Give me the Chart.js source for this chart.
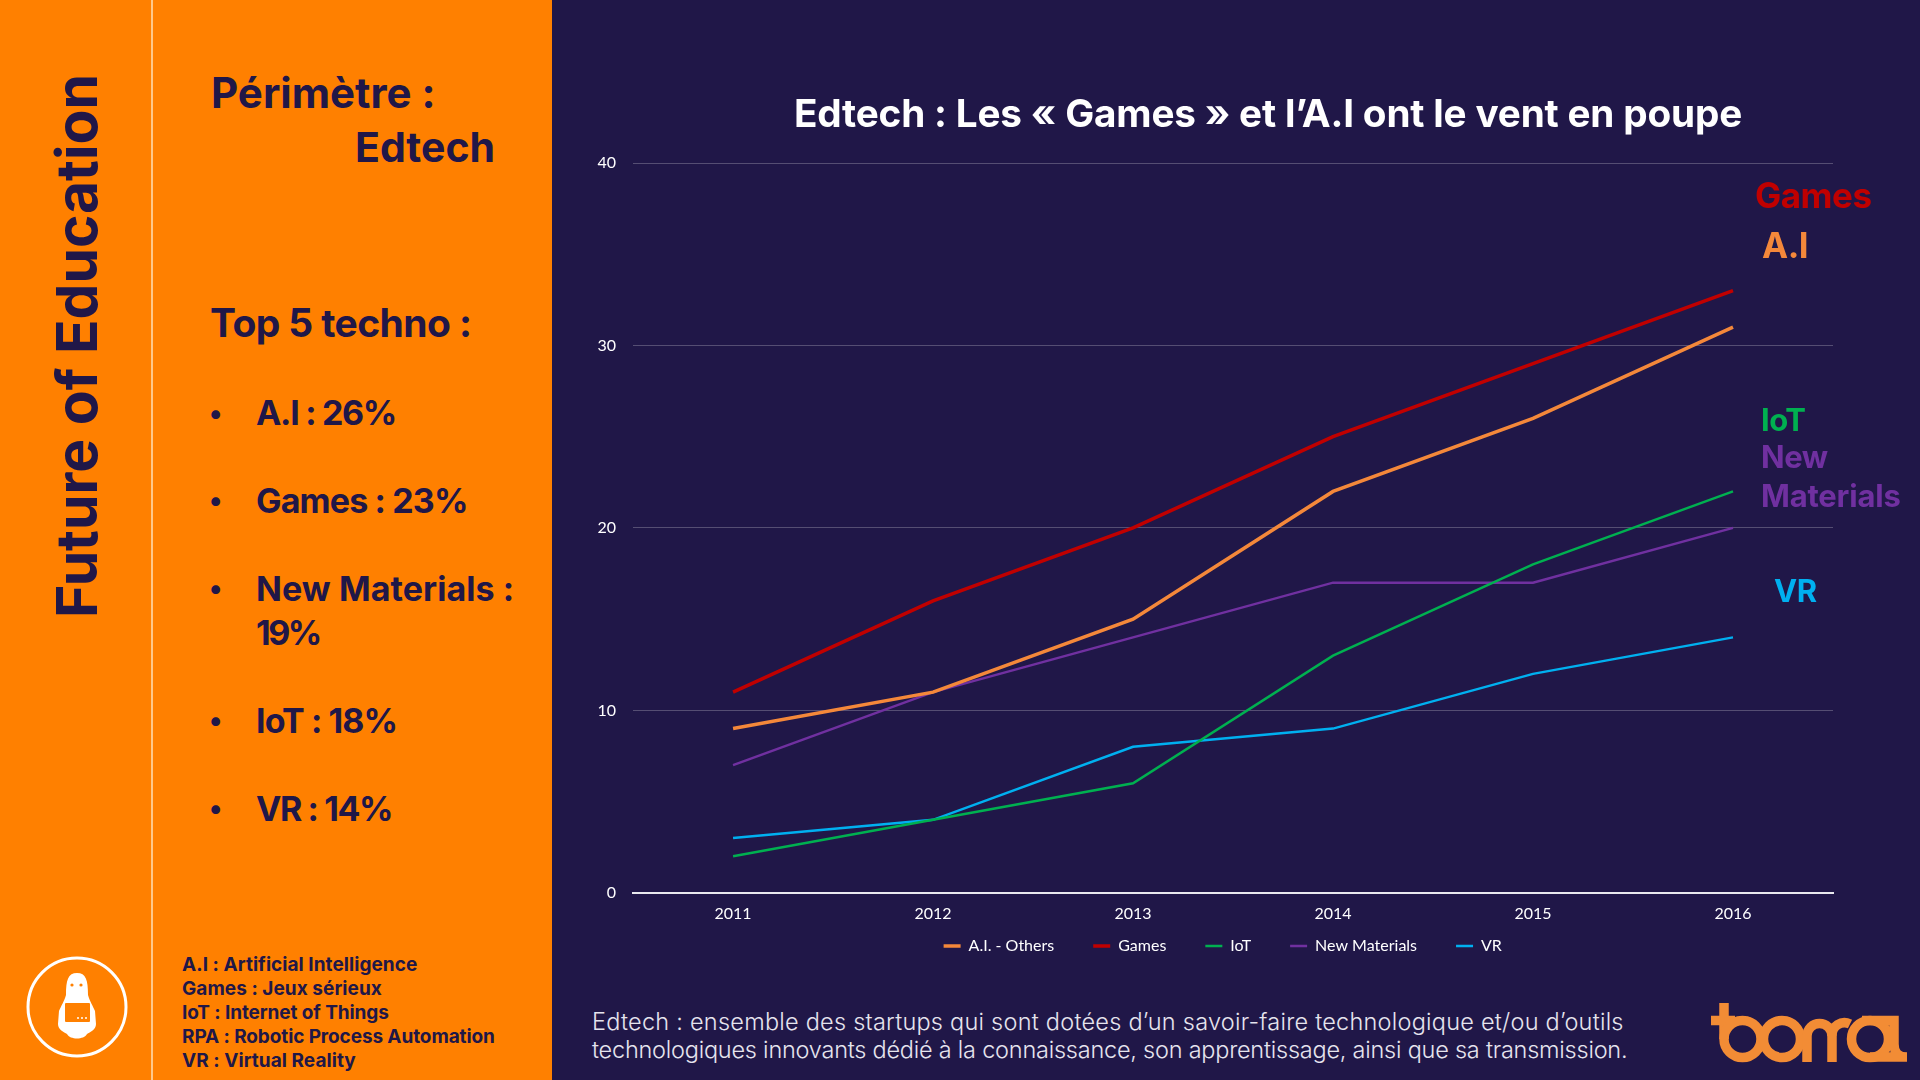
<!DOCTYPE html>
<html lang="fr">
<head>
<meta charset="utf-8">
<title>Edtech</title>
<script src="https://cdn.jsdelivr.net/npm/chart.js@4/dist/chart.umd.min.js"></script>
<style>
html, body { margin: 0; padding: 0; width: 1920px; height: 1080px; overflow: hidden; background: #201748; }
#stage { position: relative; width: 1920px; height: 1080px; background: #201748; font-family: Inter, Lato, sans-serif; }
#panel { position: absolute; left: 0; top: 0; width: 552px; height: 1080px; background: #ff8000; }
#rule { position: absolute; left: 151px; top: 0; width: 2px; height: 1080px; background: #ffc88a; }
.t { position: absolute; white-space: nowrap; line-height: 1; transform: translateY(-50%); }
.dark { color: #201748; font-weight: 700; }
.item { font-size: 34px; }
.dot { font-size: 28px; }
.abbr { font-size: 19px; letter-spacing: -0.1px; }
.tag { font-size: 31px; font-weight: 700; letter-spacing: -0.5px; }
#vertical { position: absolute; left: 76px; top: 346px; color: #201748; font-weight: 700; font-size: 57px; white-space: nowrap; line-height: 1; transform: translate(-50%, -50%) rotate(-90deg); }
#title { left: 1268px; top: 113px; transform: translate(-50%, -50%); color: #fff; font-weight: 700; font-size: 38.7px; letter-spacing: -0.18px; }
.foot { left: 592px; color: #e6e4ee; font-weight: 300; font-size: 23.5px; }
#chart-wrap { position: absolute; left: 560px; top: 130px; width: 1324px; height: 869px; }
svg { position: absolute; overflow: visible; }
</style>
</head>
<body>
<div id="stage">
  <div id="panel"></div>
  <div id="rule"></div>
  <div id="vertical">Future of Education</div>

  <div class="t dark" style="left:211px;top:93px;font-size:42px">Périmètre :</div>
  <div class="t dark" style="left:355px;top:147px;font-size:41px">Edtech</div>
  <div class="t dark" style="left:210px;top:322px;font-size:39px;letter-spacing:-0.6px">Top 5 techno :</div>

  <div class="t dark dot" style="left:209px;top:413px">•</div>
  <div class="t dark item" style="left:256px;top:413px;letter-spacing:-1.3px">A.I : 26%</div>
  <div class="t dark dot" style="left:209px;top:500px">•</div>
  <div class="t dark item" style="left:256px;top:501px;letter-spacing:-0.85px">Games : 23%</div>
  <div class="t dark dot" style="left:209px;top:588px">•</div>
  <div class="t dark item" style="left:256px;top:589px;letter-spacing:0.07px">New Materials :</div>
  <div class="t dark item" style="left:256px;top:633px;letter-spacing:-2.5px">19%</div>
  <div class="t dark dot" style="left:209px;top:720px">•</div>
  <div class="t dark item" style="left:256px;top:721px;letter-spacing:-0.9px">IoT : 18%</div>
  <div class="t dark dot" style="left:209px;top:808px">•</div>
  <div class="t dark item" style="left:256px;top:809px;letter-spacing:-1.4px">VR : 14%</div>

  <div class="t dark abbr" style="left:182px;top:964px;letter-spacing:0.05px">A.I : Artificial Intelligence</div>
  <div class="t dark abbr" style="left:182px;top:988px;letter-spacing:0.05px">Games : Jeux sérieux</div>
  <div class="t dark abbr" style="left:182px;top:1012px">IoT : Internet of Things</div>
  <div class="t dark abbr" style="left:182px;top:1036px">RPA : Robotic Process Automation</div>
  <div class="t dark abbr" style="left:182px;top:1060px;letter-spacing:0.05px">VR : Virtual Reality</div>

  <svg style="left:0;top:0" width="160" height="1080">
    <circle cx="77" cy="1007" r="49" fill="none" stroke="#fff" stroke-width="3"/>
    <path d="M66 995 C66 980 68 973 77 973 C86 973 88 980 88 995 C90 1002 93 1006 95 1011 L96 1024 C96 1030 90 1032 87 1034 C84 1040 70 1040 67 1034 C64 1032 58 1030 58 1024 L59 1011 C61 1006 64 1002 66 995 Z" fill="#fff"/>
    <rect x="65" y="1003" width="25" height="19" rx="1" fill="#ff8000"/>
    <circle cx="72" cy="985" r="1.6" fill="#ff8000"/><circle cx="81" cy="985" r="1.6" fill="#ff8000"/>
    <circle cx="78" cy="1018" r="1" fill="#fff"/><circle cx="82" cy="1018" r="1" fill="#fff"/><circle cx="86" cy="1018" r="1" fill="#fff"/>
  </svg>

  <div id="chart-wrap"><canvas id="chart"></canvas></div>

  <div id="title" class="t">Edtech : Les « Games » et l’A.I ont le vent en poupe</div>

  <div class="t tag" style="left:1755px;top:195px;color:#c00000;font-size:35px">Games</div>
  <div class="t tag" style="left:1762px;top:245px;color:#f4883a;font-size:35px">A.I</div>
  <div class="t tag" style="left:1761px;top:419px;color:#00b050">IoT</div>
  <div class="t tag" style="left:1761px;top:456px;color:#7030a0">New</div>
  <div class="t tag" style="left:1761px;top:495px;color:#7030a0;letter-spacing:-0.2px">Materials</div>
  <div class="t tag" style="left:1774px;top:590px;color:#00b0f0">VR</div>

  <div class="t foot" style="top:1022px;letter-spacing:0.24px">Edtech : ensemble des startups qui sont dotées d’un savoir-faire technologique et/ou d’outils</div>
  <div class="t foot" style="top:1050px;letter-spacing:-0.23px">technologiques innovants dédié à la connaissance, son apprentissage, ainsi que sa transmission.</div>

  <svg style="left:0;top:0" width="1920" height="1080">
    <g fill="none" stroke="#f28c35" stroke-width="9.5">
      <path d="M1711 1020.5 H1735 M1724 1003 V1039"/>
      <circle cx="1742.5" cy="1039" r="18.5"/>
      <circle cx="1782" cy="1039" r="18.5"/>
      <path d="M1807 1062 V1036 A12.5 12.5 0 0 1 1832 1036 V1062"/>
      <path d="M1832 1036 A12.5 12.5 0 0 1 1850 1024"/>
      <circle cx="1870" cy="1039" r="18.5"/>
      <path d="M1862 1020.5 H1894 V1044 Q1894 1057 1907 1057 H1870"/>
    </g>
  </svg>
</div>

<script>
const years = ["2011", "2012", "2013", "2014", "2015", "2016"];
const aiValues = [9, 11, 15, 22, 26, 31];
const gamesValues = [11, 16, 20, 25, 29, 33];
const iotValues = [2, 4, 6, 13, 18, 22];
const materialsValues = [7, 11, 14, 17, 17, 20];
const vrValues = [3, 4, 8, 9, 12, 14];

function line(label, data, color, width) {
    return { label, data, borderColor: color, backgroundColor: color, borderWidth: width, pointRadius: 0, tension: 0 };
}

// the legend sits closer to the axis and further right than the layout would put it
const legendNudge = {
    id: "legendNudge",
    afterLayout(chart) {
        chart.legend.top = 946 - 130 - 39 - 8;
        chart.legend.left += 16;
        chart.legend.right += 16;
    }
};

new Chart(document.getElementById("chart"), {
    type: "line",
    data: {
        labels: years,
        datasets: [
            line("A.I. - Others", aiValues, "#f4883a", 3.5),
            line("Games", gamesValues, "#c00000", 3.5),
            line("IoT", iotValues, "#00b050", 2.5),
            line("New Materials", materialsValues, "#7030a0", 2.5),
            line("VR", vrValues, "#00b0f0", 2.5)
        ]
    },
    options: {
        responsive: true,
        maintainAspectRatio: false,
        animation: false,
        layout: { padding: { left: 20.5, right: 51, top: 33, bottom: 0 } },
        plugins: {
            title: { display: false },
            tooltip: { enabled: false },
            legend: {
                position: "bottom",
                labels: {
                    color: "#ffffff",
                    font: { family: "Lato", size: 16 },
                    usePointStyle: true,
                    pointStyle: "line",
                    pointStyleWidth: 17,
                    padding: 39
                }
            }
        },
        scales: {
            x: {
                offset: true,
                grid: { display: false, drawTicks: false },
                border: { color: "#e8e8ee", width: 2 },
                ticks: { color: "#ffffff", font: { family: "Lato", size: 16 }, padding: 11, maxRotation: 0 }
            },
            y: {
                min: 0,
                max: 40,
                grid: { color: "rgba(255,255,255,0.24)", lineWidth: 1, drawTicks: false },
                border: { display: false },
                ticks: { color: "#ffffff", font: { family: "Lato", size: 16 }, stepSize: 10, padding: 17 }
            }
        }
    },
    plugins: [legendNudge]
});
</script>
</body>
</html>
